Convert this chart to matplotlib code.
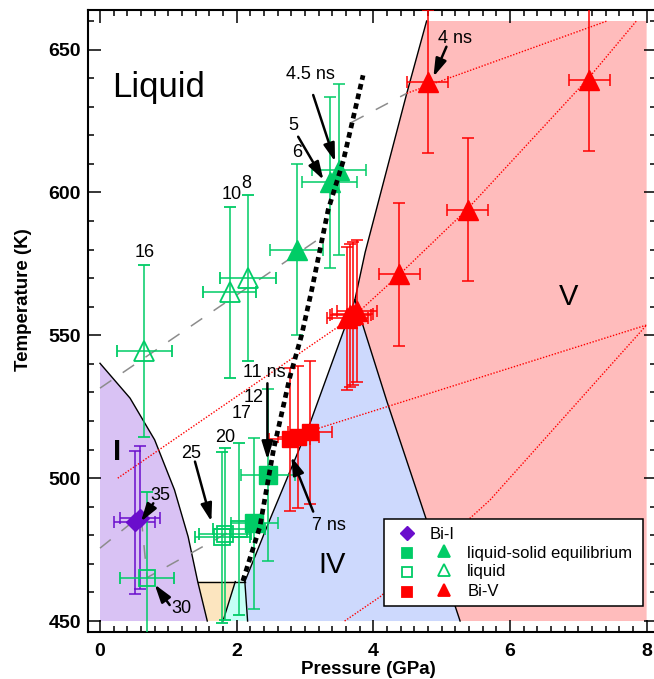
import matplotlib.pyplot as plt
from matplotlib.patches import Rectangle

plt.rcParams['font.family'] = ['Liberation Sans', 'DejaVu Sans']

GREEN = '#00CC66'
RED = '#FF0000'
PURPLE = '#6A0DCC'

# ---------------- data (pressure in GPa, temperature in K) ----------------
# phase boundaries
i_line_p = [0.0, 0.44, 0.80, 1.09, 1.29, 1.43, 1.57]
i_line_t = [540.2, 528.0, 513.4, 495.9, 479.5, 463.8, 450.0]
yellow_p = [1.43, 1.98, 1.80, 1.57]
yellow_t = [463.8, 463.8, 450.0, 450.0]
cyan_p = [1.80, 1.98, 2.12, 2.16]
cyan_t = [450.0, 463.8, 463.8, 450.0]
iv_left_p = [2.12, 2.46, 3.07, 3.73]
iv_left_t = [463.8, 484.0, 519.0, 562.4]
iv_right_p = [3.73, 4.20, 4.68, 5.27]
iv_right_t = [562.4, 526.8, 492.4, 450.0]
v_left_p = [3.73, 3.88, 4.49, 4.78]
v_left_t = [562.4, 579.0, 634.7, 660.0]
p_max, t_min, t_max = 8.0, 450.0, 660.0

# gray dashed lines
liq_fit_p = [0.0, 3.25]
liq_fit_t = [531.5, 584.5]
liq_fit2_p = [3.68, 4.49]
liq_fit2_t = [624.5, 634.7]
low_path_p = [0.0, 0.60, 0.69, 1.90]
low_path_t = [475.5, 487.0, 465.2, 481.3]

# red dotted lines
r1_p = [0.26, 3.73, 4.37, 5.37, 7.15, 7.85]
r1_t = [500.0, 557.0, 571.0, 594.0, 640.0, 660.0]
r2_p = [4.49, 7.42]
r2_t = [634.7, 660.0]
r3_p = [3.07, 8.0]
r3_t = [516.5, 553.6]
r4_p = [3.58, 4.10, 5.44, 5.71, 8.0]
r4_t = [450.0, 458.5, 486.5, 492.4, 553.6]

# thick black dotted line
bd_p = [2.09, 2.34, 2.54, 2.78, 2.95, 3.10, 3.34, 3.56, 3.85]
bd_t = [464.0, 483.0, 510.0, 535.5, 550.0, 566.0, 594.0, 611.0, 641.0]

# measurements
bi1_p = [0.51, 0.59]
bi1_t = [484.5, 486.2]
bi1_perr = [0.30, 0.29]
bi1_terr = [25, 25]

ls_sq_p = [2.26, 2.46]
ls_sq_t = [484.2, 501.1]
ls_sq_perr = [0.35, 0.40]
ls_sq_terr = [30, 30]

liq_sq_p = [0.69, 1.79, 1.83, 2.03]
liq_sq_t = [465.2, 479.3, 480.4, 482.2]
liq_sq_perr = [0.40, 0.40, 0.38, 0.38]
liq_sq_terr = [30, 30, 30, 30]

liq_tr_p = [0.65, 1.90, 2.16]
liq_tr_t = [544.5, 565.0, 570.0]
liq_tr_perr = [0.40, 0.39, 0.41]
liq_tr_terr = [30, 30, 29]

ls_tr_p = [2.88, 3.36, 3.50]
ls_tr_t = [580.0, 603.5, 608.0]
ls_tr_perr = [0.39, 0.40, 0.40]
ls_tr_terr = [30, 30, 30]

v_sq_p = [2.78, 2.90, 3.07]
v_sq_t = [513.6, 514.4, 516.1]
v_sq_perr = [0.30, 0.30, 0.32]
v_sq_terr = [25, 25, 25]

v_tr_p = [3.62, 3.66, 3.70, 3.76, 4.38, 4.80, 5.38, 7.16]
v_tr_t = [556.0, 557.0, 557.5, 558.5, 571.3, 638.8, 593.9, 639.4]
v_tr_perr = [0.30, 0.30, 0.30, 0.29, 0.30, 0.30, 0.30, 0.30]
v_tr_terr = [25, 25, 25, 25, 25, 25, 25, 25]

# annotations: text, left P, baseline T
small_labels = [('4 ns', 4.94, 652.4), ('4.5 ns', 2.72, 639.8), ('5', 2.76, 621.9),
                ('6', 2.81, 612.5), ('8', 2.07, 601.4), ('10', 1.78, 597.6),
                ('16', 0.51, 577.5), ('11 ns', 2.10, 535.5), ('12', 2.10, 526.8),
                ('17', 1.93, 520.9), ('20', 1.68, 512.8), ('25', 1.19, 506.9),
                ('35', 0.74, 492.4), ('30', 1.04, 452.7), ('7 ns', 3.10, 481.9)]
# arrows: tail P, tail T, head P, head T
arrows = [(5.07, 651.0, 4.88, 640.5), (3.12, 634.1, 3.44, 610.8),
          (2.90, 619.5, 3.27, 604.4), (2.45, 533.2, 2.45, 506.5),
          (1.39, 505.8, 1.63, 484.8), (0.78, 491.2, 0.60, 484.8),
          (1.02, 455.6, 0.80, 462.8), (3.12, 488.3, 2.80, 507.5)]

# ---------------- figure ----------------
fig = plt.figure(figsize=(6.54, 6.79), dpi=100)
ax = fig.add_axes([0.1341, 0.0692, 0.8682, 0.9161])

# phase regions
ax.fill(i_line_p + [0.0], i_line_t + [t_min], color='#D9C2F4', lw=0, zorder=1)
ax.fill(yellow_p, yellow_t, color='#FCE5BF', lw=0, zorder=1)
ax.fill(cyan_p, cyan_t, color='#C6FFF6', lw=0, zorder=1)
ax.fill([cyan_p[3]] + iv_left_p + iv_right_p[1:], [cyan_t[3]] + iv_left_t + iv_right_t[1:],
        color='#CDD9FD', lw=0, zorder=1)
ax.fill(iv_right_p[::-1] + v_left_p[1:] + [p_max, p_max],
        iv_right_t[::-1] + v_left_t[1:] + [t_max, t_min],
        color='#FFBCBC', lw=0, zorder=1)

# boundaries
bk = dict(color='black', lw=1.0, zorder=2)
ax.plot(i_line_p, i_line_t, **bk)
ax.plot([yellow_p[0], cyan_p[2]], [yellow_t[0], cyan_t[2]], **bk)
ax.plot(cyan_p[:2], cyan_t[:2], **bk)
ax.plot(cyan_p[2:], cyan_t[2:], **bk)
ax.plot(iv_left_p, iv_left_t, **bk)
ax.plot(iv_right_p, iv_right_t, **bk)
ax.plot(v_left_p, v_left_t, **bk)

# guide lines
gd = dict(color='#8C8C8C', lw=1.1, dashes=(9, 9), zorder=3)
ax.plot(liq_fit_p, liq_fit_t, **gd)
ax.plot(liq_fit2_p, liq_fit2_t, **gd)
ax.plot(low_path_p, low_path_t, **gd)
rd = dict(color=RED, lw=1.0, dashes=(1, 1.2), zorder=3)
for xs, ys in [(r1_p, r1_t), (r2_p, r2_t), (r3_p, r3_t), (r4_p, r4_t)]:
    ax.plot(xs, ys, **rd)

# data points
eb = dict(elinewidth=1.1, capsize=4.3, capthick=1.1, linestyle='none', zorder=5)
ax.errorbar(bi1_p, bi1_t, xerr=bi1_perr, yerr=bi1_terr, fmt='D', ms=9,
            mfc=PURPLE, mec=PURPLE, ecolor=PURPLE, **eb)
ax.errorbar(liq_sq_p, liq_sq_t, xerr=liq_sq_perr, yerr=liq_sq_terr, fmt='s', ms=12,
            mfc='none', mec=GREEN, mew=1.3, ecolor=GREEN, **eb)
ax.errorbar(liq_tr_p, liq_tr_t, xerr=liq_tr_perr, yerr=liq_tr_terr, fmt='^', ms=15,
            mfc='none', mec=GREEN, mew=1.3, ecolor=GREEN, **eb)
ax.errorbar(ls_sq_p, ls_sq_t, xerr=ls_sq_perr, yerr=ls_sq_terr, fmt='s', ms=12.5,
            mfc=GREEN, mec=GREEN, ecolor=GREEN, **eb)
ax.errorbar(ls_tr_p, ls_tr_t, xerr=ls_tr_perr, yerr=ls_tr_terr, fmt='^', ms=15,
            mfc=GREEN, mec=GREEN, ecolor=GREEN, **eb)
ax.errorbar(v_sq_p, v_sq_t, xerr=v_sq_perr, yerr=v_sq_terr, fmt='s', ms=12,
            mfc=RED, mec=RED, ecolor=RED, **eb)
ax.errorbar(v_tr_p, v_tr_t, xerr=v_tr_perr, yerr=v_tr_terr, fmt='^', ms=15,
            mfc=RED, mec=RED, ecolor=RED, **eb)

# thick dotted line
ax.plot(bd_p, bd_t, color='black', lw=3.4, dashes=(1.2, 0.9), zorder=6)

# labels and arrows
for txt, x, y in small_labels:
    ax.text(x, y, txt, fontsize=13, ha='left', va='baseline', zorder=8)
for x0, y0, x1, y1 in arrows:
    ax.annotate('', xy=(x1, y1), xytext=(x0, y0), zorder=8,
                arrowprops=dict(arrowstyle='-|>,head_length=0.9,head_width=0.28',
                                color='black', lw=1.8, shrinkA=0, shrinkB=0,
                                mutation_scale=12))
ax.text(0.18, 633.5, 'Liquid', fontsize=25, ha='left', va='baseline', zorder=8)
ax.text(0.19, 506.4, 'I', fontsize=21, fontweight='bold', ha='left', va='baseline', zorder=8)
ax.text(3.20, 466.7, 'IV', fontsize=21, ha='left', va='baseline', zorder=8)
ax.text(6.71, 560.6, 'V', fontsize=21, ha='left', va='baseline', zorder=8)

# legend drawn by hand
ax.add_patch(Rectangle((0.5218, 0.0418), 0.4567, 0.1394, transform=ax.transAxes,
                       facecolor='white', edgecolor='black', lw=1.1, zorder=9))
lg = dict(transform=ax.transAxes, zorder=10, linestyle='none')
ax.plot(0.5629, 0.1586, 'D', ms=7, color=PURPLE, **lg)
rows = [(0.1265, GREEN, GREEN, 'liquid-solid equilibrium'),
        (0.0969, 'none', GREEN, 'liquid'),
        (0.0648, RED, RED, 'Bi-V')]
for y, fc, ec, name in rows:
    ax.plot(0.5629, y, 's', ms=7, mfc=fc, mec=ec, mew=1.3, **lg)
    ax.plot(0.6275, y + 0.003, '^', ms=9, mfc=fc, mec=ec, mew=1.3, **lg)
    ax.text(0.6685, y - 0.0072, name, fontsize=12, va='baseline', transform=ax.transAxes, zorder=10)
ax.text(0.6029, 0.149, 'Bi-I', fontsize=12, va='baseline', transform=ax.transAxes, zorder=10)

# axes
ax.set_xlim(-0.18, 8.13)
ax.set_ylim(446.15, 663.86)
ax.set_xticks([0, 2, 4, 6, 8])
ax.set_xticks([i * 0.2 for i in range(41)], minor=True)
ax.set_yticks([450, 500, 550, 600, 650])
ax.set_yticks(list(range(450, 661, 10)), minor=True)
ax.set_xticklabels(['0', '2', '4', '6', '8'], fontweight='bold', fontsize=14)
ax.set_yticklabels(['450', '500', '550', '600', '650'], fontweight='bold', fontsize=14)
ax.tick_params(which='both', direction='in', top=True, right=True, width=1.1)
ax.tick_params(which='major', length=9)
ax.tick_params(which='minor', length=4.5)
ax.tick_params(axis='x', pad=8)
ax.tick_params(axis='y', pad=5)
for s in ax.spines.values():
    s.set_linewidth(1.5)
ax.set_xlabel('Pressure (GPa)', fontsize=13.5, fontweight='bold')
ax.set_ylabel('Temperature (K)', fontsize=13.5, fontweight='bold')
ax.xaxis.set_label_coords(0.494, -0.046)
ax.yaxis.set_label_coords(-0.098, 0.534)

fig.savefig('out.png', dpi=100)
